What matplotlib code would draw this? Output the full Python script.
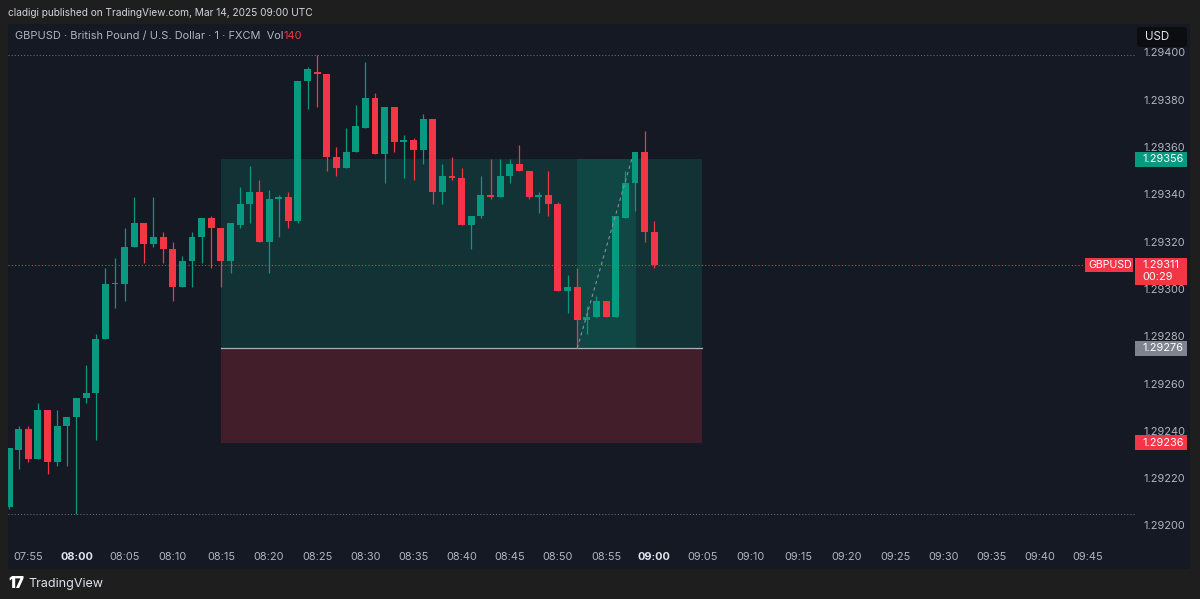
import numpy as np
import pandas as pd
import matplotlib
matplotlib.use("Agg")
import matplotlib.pyplot as plt
from matplotlib.patches import Rectangle, FancyBboxPatch
import matplotlib.transforms as mtransforms

plt.rcParams["font.family"] = ["Inter", "DejaVu Sans"]

# 1-minute GBPUSD candles, first one at 07:53
start = "2025-03-14 07:53"
opens = [1.29209, 1.29233, 1.29242, 1.29229, 1.29250, 1.29228, 1.29243, 1.29247, 1.29255, 1.29257,
         1.29280, 1.29303, 1.29303, 1.29319, 1.29329, 1.29320, 1.29323, 1.29318, 1.29302, 1.29313,
         1.29323, 1.29331, 1.29327, 1.29313, 1.29328, 1.29337, 1.29342, 1.29321, 1.29339, 1.29340,
         1.29330, 1.29389, 1.29393, 1.29392, 1.29357, 1.29352, 1.29359, 1.29369, 1.29382, 1.29358,
         1.29378, 1.29363, 1.29364, 1.29360, 1.29373, 1.29342, 1.29349, 1.29348, 1.29328, 1.29332,
         1.29341, 1.29340, 1.29349, 1.29354, 1.29351, 1.29340, 1.29341, 1.29337, 1.29300, 1.29302,
         1.29288, 1.29289, 1.29296, 1.29289, 1.29331, 1.29346, 1.29359, 1.29325]
highs = [1.29234, 1.29243, 1.29243, 1.29253, 1.29250, 1.29250, 1.29247, 1.29255, 1.29269, 1.29282,
         1.29310, 1.29314, 1.29327, 1.29340, 1.29329, 1.29340, 1.29325, 1.29321, 1.29315, 1.29325,
         1.29331, 1.29332, 1.29327, 1.29329, 1.29344, 1.29353, 1.29347, 1.29343, 1.29341, 1.29342,
         1.29389, 1.29395, 1.29400, 1.29392, 1.29361, 1.29369, 1.29379, 1.29397, 1.29384, 1.29378,
         1.29378, 1.29366, 1.29365, 1.29375, 1.29373, 1.29354, 1.29357, 1.29352, 1.29332, 1.29349,
         1.29356, 1.29356, 1.29356, 1.29362, 1.29351, 1.29342, 1.29351, 1.29338, 1.29307, 1.29310,
         1.29294, 1.29298, 1.29296, 1.29332, 1.29351, 1.29359, 1.29368, 1.29330]
lows = [1.29208, 1.29225, 1.29228, 1.29229, 1.29223, 1.29226, 1.29226, 1.29206, 1.29253, 1.29237,
        1.29280, 1.29293, 1.29296, 1.29319, 1.29312, 1.29319, 1.29312, 1.29296, 1.29302, 1.29302,
        1.29312, 1.29310, 1.29302, 1.29308, 1.29327, 1.29329, 1.29321, 1.29308, 1.29323, 1.29327,
        1.29329, 1.29377, 1.29378, 1.29351, 1.29349, 1.29352, 1.29359, 1.29369, 1.29358, 1.29346,
        1.29359, 1.29348, 1.29347, 1.29354, 1.29337, 1.29337, 1.29347, 1.29328, 1.29318, 1.29331,
        1.29339, 1.29340, 1.29346, 1.29351, 1.29339, 1.29333, 1.29332, 1.29300, 1.29291, 1.29276,
        1.29282, 1.29289, 1.29289, 1.29289, 1.29331, 1.29334, 1.29321, 1.29310]
closes = [1.29234, 1.29242, 1.29229, 1.29250, 1.29228, 1.29243, 1.29247, 1.29255, 1.29257, 1.29280,
          1.29303, 1.29303, 1.29319, 1.29329, 1.29320, 1.29323, 1.29318, 1.29302, 1.29313, 1.29323,
          1.29331, 1.29327, 1.29313, 1.29329, 1.29337, 1.29342, 1.29321, 1.29339, 1.29340, 1.29330,
          1.29389, 1.29394, 1.29392, 1.29357, 1.29352, 1.29359, 1.29370, 1.29382, 1.29358, 1.29378,
          1.29363, 1.29364, 1.29360, 1.29373, 1.29342, 1.29349, 1.29348, 1.29328, 1.29332, 1.29341,
          1.29340, 1.29349, 1.29354, 1.29351, 1.29340, 1.29341, 1.29337, 1.29300, 1.29302, 1.29288,
          1.29289, 1.29296, 1.29289, 1.29332, 1.29346, 1.29359, 1.29325, 1.29311]

tick_times = ["07:55", "08:00", "08:05", "08:10", "08:15", "08:20", "08:25", "08:30", "08:35",
              "08:40", "08:45", "08:50", "08:55", "09:00", "09:05", "09:10", "09:15", "09:20",
              "09:25", "09:30", "09:35", "09:40", "09:45"]
bold_times = ["08:00", "09:00"]
price_ticks = [1.29200, 1.29220, 1.29240, 1.29260, 1.29280, 1.29300, 1.29320, 1.29340, 1.29360,
               1.29380, 1.29400]

# long position tool
entry = 1.29276
target = 1.29356
stop = 1.29236
pos_from, pos_to = "08:15", "09:05"
hit_from, hit_to = "08:52", "08:58:06"
path_times = ["08:52", "08:57:40"]
path_prices = [entry, target]

last_price = 1.29311
countdown = "00:29"
symbol = "GBPUSD"

BG = "#151924"
FRAME = "#1e1e1e"
GREEN = "#089981"
RED = "#f23645"
TXT = "#b2b5be"
FS = 7.9

t0 = pd.Timestamp("2025-03-14 07:55")
def mins(t):
    return (pd.Timestamp("2025-03-14 " + t) - t0) / pd.Timedelta(minutes=1)

times = pd.date_range(start, periods=len(opens), freq="min")
x = np.array((times - t0) / pd.Timedelta(minutes=1), dtype=float)
o = np.array(opens); h = np.array(highs); l = np.array(lows); c = np.array(closes)
up = c >= o
cols = np.where(up, GREEN, RED)

W, H = 1200, 599
fig = plt.figure(figsize=(W / 100, H / 100), dpi=100, facecolor=FRAME)

def box(x0, y0, x1, y1):
    return [x0 / W, 1 - y1 / H, (x1 - x0) / W, (y1 - y0) / H]

panel = fig.add_axes(box(8, 24, 1190, 569))
panel.set_facecolor(BG)
panel.set_xticks([]); panel.set_yticks([])
for s in panel.spines.values():
    s.set_visible(False)

ax = fig.add_axes(box(8, 24, 1135, 540))
ax.patch.set_alpha(0)
for s in ax.spines.values():
    s.set_visible(False)
ax.set_xlim(-2.108, 114.92)
ax.set_ylim(1.291949, 1.294131)

# position tool
x0p, x1p = mins(pos_from), mins(pos_to)
ax.add_patch(Rectangle((x0p, entry), x1p - x0p, target - entry, facecolor=GREEN, alpha=0.2, lw=0, zorder=1))
ax.add_patch(Rectangle((x0p, stop), x1p - x0p, entry - stop, facecolor=RED, alpha=0.2, lw=0, zorder=1))
ax.add_patch(Rectangle((mins(hit_from), entry), mins(hit_to) - mins(hit_from), target - entry,
                       facecolor=GREEN, alpha=0.2, lw=0, zorder=1))
ax.plot([x0p, x1p], [entry, entry], color="#a3b3b5", lw=0.9, zorder=2)
ax.plot([mins(t) for t in path_times], path_prices, color="#8a8e97", lw=0.8,
        linestyle=(0, (3, 3)), zorder=4)

# high / low / last price lines
ax.axhline(h.max(), color="#6a6d78", lw=0.75, linestyle=(0, (1, 2)), zorder=2)
ax.axhline(l.min(), color="#6a6d78", lw=0.75, linestyle=(0, (1, 2)), zorder=2)
ax.axhline(last_price, color=RED, lw=0.8, linestyle=(0, (1, 2)), zorder=2)

# candles
ax.vlines(x, l, h, colors=cols, lw=0.9, zorder=3)
body = np.maximum(np.abs(c - o), 0.000005)
ax.bar(x, body, bottom=np.minimum(o, c), width=0.72, color=cols, lw=0, zorder=3)

ax.set_yticks([])
ax.set_xticks([mins(t) for t in tick_times])
ax.set_xticklabels(tick_times)
ax.tick_params(axis="x", length=0, pad=9, labelsize=FS, labelcolor=TXT)
for lab in ax.get_xticklabels():
    if lab.get_text() in bold_times:
        lab.set_fontweight("bold")
        lab.set_color("#e0e3eb")

# symbol tag at right edge of plot
tr = mtransforms.blended_transform_factory(ax.transAxes, ax.transData)
pxh = (ax.get_ylim()[1] - ax.get_ylim()[0]) / 516.0
ax.add_patch(Rectangle((0.9556, last_price - 7 * pxh), 0.0426, 14 * pxh, transform=tr,
                       facecolor=RED, lw=0, zorder=6, clip_on=False))
ax.text(0.9777, last_price, symbol, transform=tr, color="white", fontsize=FS - 0.3,
        va="center", ha="center", zorder=7)

# price scale
axr = fig.add_axes(box(1135, 24, 1190, 540), sharey=ax)
axr.patch.set_alpha(0)
for s in axr.spines.values():
    s.set_visible(False)
axr.set_xlim(0, 55)
axr.tick_params(left=False, bottom=False, labelleft=False, labelbottom=False)
for p in price_ticks:
    axr.text(8, p + 1.5 * pxh, f"{p:.5f}", color=TXT, fontsize=FS, va="center", ha="left", zorder=2)

def tag(price, fc, lines, hgt=15, up_px=7.5):
    axr.add_patch(Rectangle((0, price - (hgt - up_px) * pxh), 52, hgt * pxh, facecolor=fc,
                            lw=0, zorder=5, clip_on=False))
    for k, s in enumerate(lines):
        axr.text(7.5, price - k * 12 * pxh, s, color="white", fontsize=FS, va="center",
                 ha="left", zorder=6, clip_on=False)

tag(target, GREEN, [f"{target:.5f}"])
tag(entry, "#7f838d", [f"{entry:.5f}"])
tag(stop, RED, [f"{stop:.5f}"])
tag(last_price, RED, [f"{last_price:.5f}", countdown], hgt=27, up_px=7)

# USD button
fig.patches.append(FancyBboxPatch((1137 / W, 1 - 47 / H), 50 / W, 20 / H,
                                  boxstyle="round,pad=0,rounding_size=0.004",
                                  transform=fig.transFigure, facecolor="#0c0d10", lw=0))
fig.text(1145 / W, 1 - 37 / H, "USD", color="#e0e3eb", fontsize=8.3, va="center", ha="left")

# titles
fig.text(8 / W, 1 - 13 / H, "cladigi published on TradingView.com, Mar 14, 2025 09:00 UTC",
         color="#d1d4dc", fontsize=7.3, va="center", ha="left")
t1 = fig.text(15 / W, 1 - 36 / H, "GBPUSD · British Pound / U.S. Dollar · 1 · FXCM  Vol",
              color=TXT, fontsize=7.9, va="center", ha="left")
fig.canvas.draw()
bb = t1.get_window_extent()
fig.text(bb.x1 / W, 1 - 36 / H, "140", color=RED, fontsize=7.9, va="center", ha="left")

# footer
fig.text(8 / W, 1 - 584 / H, "17", color="white", fontsize=11, fontweight="black",
         va="center", ha="left")
fig.text(28 / W, 1 - 584 / H, "TradingView", color="#e0e3eb", fontsize=9, va="center", ha="left")

fig.savefig("out.png", dpi=100, facecolor=FRAME)
